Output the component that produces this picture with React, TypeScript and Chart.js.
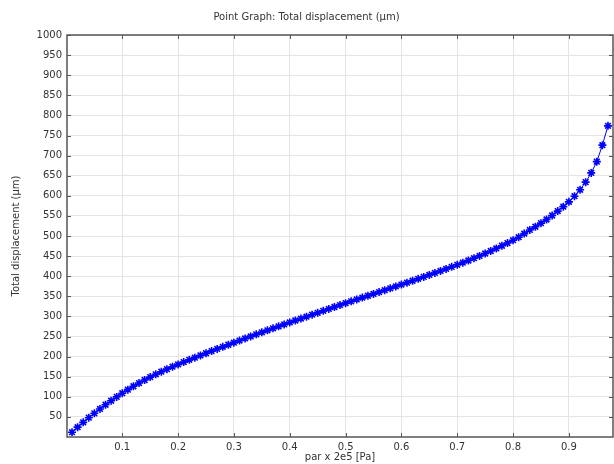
import React, { useEffect, useRef } from "react";
import { Chart, registerables } from "chart.js";
Chart.register(...registerables);

const chartTitle = "Point Graph: Total displacement (µm)";
const xAxisTitle = "par x 2e5 [Pa]";
const yAxisTitle = "Total displacement (µm)";

const parValues = [
  0.01, 0.02, 0.03, 0.04, 0.05, 0.06, 0.07, 0.08, 0.09, 0.1,
  0.11, 0.12, 0.13, 0.14, 0.15, 0.16, 0.17, 0.18, 0.19, 0.2,
  0.21, 0.22, 0.23, 0.24, 0.25, 0.26, 0.27, 0.28, 0.29, 0.3,
  0.31, 0.32, 0.33, 0.34, 0.35, 0.36, 0.37, 0.38, 0.39, 0.4,
  0.41, 0.42, 0.43, 0.44, 0.45, 0.46, 0.47, 0.48, 0.49, 0.5,
  0.51, 0.52, 0.53, 0.54, 0.55, 0.56, 0.57, 0.58, 0.59, 0.6,
  0.61, 0.62, 0.63, 0.64, 0.65, 0.66, 0.67, 0.68, 0.69, 0.7,
  0.71, 0.72, 0.73, 0.74, 0.75, 0.76, 0.77, 0.78, 0.79, 0.8,
  0.81, 0.82, 0.83, 0.84, 0.85, 0.86, 0.87, 0.88, 0.89, 0.9,
  0.91, 0.92, 0.93, 0.94, 0.95, 0.96, 0.97,
];

const displacement = [
  12, 24.5, 36.5, 48, 59, 69.8, 80.2, 90.2, 99.8, 109,
  117.8, 126.2, 134.2, 141.8, 149, 155.9, 162.5, 168.8, 174.8, 180.6,
  186.3, 191.9, 197.4, 202.9, 208.3, 213.7, 219, 224.3, 229.5, 234.7,
  239.9, 245.1, 250.2, 255.3, 260.3, 265.3, 270.3, 275.2, 280.1, 285,
  289.8, 294.6, 299.4, 304.2, 309, 313.8, 318.6, 323.4, 328.2, 333,
  337.6, 342.2, 346.8, 351.4, 356, 360.6, 365.2, 369.9, 374.6, 379.3,
  384, 388.7, 393.5, 398.3, 403.2, 408.1, 413.1, 418.1, 423.2, 428.4,
  433.7, 439.1, 444.7, 450.5, 456.5, 462.7, 469.1, 475.7, 482.5, 489.5,
  497, 506, 515, 523, 532, 541, 551, 562, 573, 585,
  599, 615, 634, 657, 685, 726, 774,
];

const xTicks = [0.1, 0.2, 0.3, 0.4, 0.5, 0.6, 0.7, 0.8, 0.9];
const yTicks = [
  50, 100, 150, 200, 250, 300, 350, 400, 450, 500,
  550, 600, 650, 700, 750, 800, 850, 900, 950, 1000,
];

const FONT = "'DejaVu Sans', sans-serif";
const TEXT = "#333333";

const framePlugin = {
  id: "frameTicks",
  afterDatasetsDraw(chart: any) {
    const { ctx, chartArea } = chart;
    const { left, right, top, bottom } = chartArea;
    const xs = chart.scales.x;
    const ys = chart.scales.y;
    const L = 4;
    ctx.save();
    ctx.strokeStyle = "#555555";
    ctx.lineWidth = 1;
    ctx.beginPath();
    for (const t of xTicks) {
      const px = Math.round(xs.getPixelForValue(t)) + 0.5;
      ctx.moveTo(px, bottom);
      ctx.lineTo(px, bottom - L);
      ctx.moveTo(px, top);
      ctx.lineTo(px, top + L);
    }
    for (const t of yTicks) {
      const py = Math.round(ys.getPixelForValue(t)) + 0.5;
      ctx.moveTo(left, py);
      ctx.lineTo(left + L, py);
      ctx.moveTo(right, py);
      ctx.lineTo(right - L, py);
    }
    ctx.stroke();
    ctx.strokeStyle = "#555555";
    ctx.lineWidth = 1.5;
    ctx.strokeRect(left, top, right - left, bottom - top);
    ctx.restore();
  },
};

export default function App() {
  const ref = useRef<HTMLCanvasElement | null>(null);
  useEffect(() => {
    if (!ref.current) return;
    const points = parValues.map((x, i) => ({ x, y: displacement[i] }));
    const chart = new Chart(ref.current, {
      type: "scatter",
      data: {
        datasets: [
          {
            data: points,
            showLine: true,
            borderColor: "#0000ff",
            backgroundColor: "#0000ff",
            borderWidth: 1,
            pointStyle: "star",
            pointRadius: 4,
            pointBorderWidth: 1.6,
            pointBorderColor: "#0000ff",
            pointBackgroundColor: "#0000ff",
            clip: 6,
          },
        ],
      },
      options: {
        animation: false,
        responsive: true,
        maintainAspectRatio: false,
        devicePixelRatio: 1,
        layout: { autoPadding: false, padding: { left: 0, right: 1, top: 0, bottom: 0 } },
        plugins: {
          legend: { display: false },
          tooltip: { enabled: false },
          title: {
            display: true,
            text: chartTitle,
            color: TEXT,
            font: { family: FONT, size: 10, weight: "normal" },
            padding: { top: 11, bottom: 12 },
          },
        },
        scales: {
          x: {
            type: "linear",
            min: 0.001,
            max: 0.979,
            afterBuildTicks: (s: any) => {
              s.ticks = xTicks.map((v) => ({ value: v }));
            },
            afterFit: (s: any) => {
              s.height = 27;
              s.paddingLeft = 0;
              s.paddingRight = 0;
            },
            grid: { color: "#e4e4e4", drawTicks: false },
            border: { display: false },
            ticks: {
              color: TEXT,
              font: { family: FONT, size: 10 },
              padding: 4,
              maxRotation: 0,
              autoSkip: false,
              callback: (v: any) => String(Math.round(Number(v) * 10) / 10),
            },
            title: {
              display: true,
              text: xAxisTitle,
              color: TEXT,
              font: { family: FONT, size: 10 },
              padding: { top: 0, bottom: 1 },
            },
          },
          y: {
            type: "linear",
            min: 0,
            max: 1000,
            afterBuildTicks: (s: any) => {
              s.ticks = yTicks.map((v) => ({ value: v }));
            },
            afterFit: (s: any) => {
              s.width = 67;
              s.paddingTop = 0;
              s.paddingBottom = 0;
            },
            grid: { color: "#e4e4e4", drawTicks: false },
            border: { display: false },
            ticks: {
              color: TEXT,
              font: { family: FONT, size: 10 },
              padding: 5,
              autoSkip: false,
              callback: (v: any) => String(v),
            },
            title: {
              display: true,
              text: yAxisTitle,
              color: TEXT,
              font: { family: FONT, size: 10 },
              padding: { top: 10, bottom: 0 },
            },
          },
        },
      },
      plugins: [framePlugin],
    });
    return () => chart.destroy();
  }, []);
  return (
    <div
      style={{
        position: "fixed",
        left: 0,
        top: 0,
        width: 614,
        height: 464,
        background: "#ffffff",
      }}
    >
      <canvas ref={ref} />
    </div>
  );
}
